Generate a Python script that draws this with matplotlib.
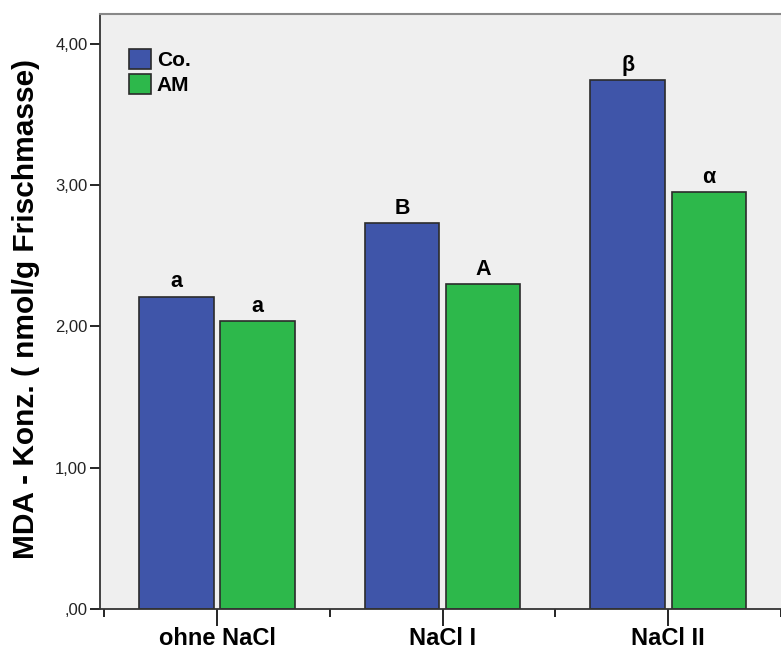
import numpy as np
import matplotlib.pyplot as plt
from matplotlib.patches import Patch

# Daten: MDA-Konzentration (nmol/g Frischmasse)
categories = ['ohne NaCl', 'NaCl I', 'NaCl II']
series_names = ['Co.', 'AM']
co_values = [2.21, 2.73, 3.74]
am_values = [2.04, 2.30, 2.95]
co_letters = ['a', 'B', 'β']
am_letters = ['a', 'A', 'α']
yticks = [0, 1, 2, 3, 4]
ytick_labels = [',00', '1,00', '2,00', '3,00', '4,00']

plt.rcParams['font.family'] = ['Liberation Sans', 'DejaVu Sans']

blue = '#3F55A9'
green = '#2DB84B'
edge = '#2b2b2b'

fig = plt.figure(figsize=(7.81, 6.52), dpi=100)
ax = fig.add_axes([100 / 781, 43 / 652, 681 / 781, 595 / 652])
ax.set_facecolor('#EFEFEF')

x = np.arange(len(categories))
width = 0.33
offset = 0.18

bars_co = ax.bar(x - offset, co_values, width, color=blue, edgecolor=edge, linewidth=1.2)
bars_am = ax.bar(x + offset, am_values, width, color=green, edgecolor=edge, linewidth=1.2)

# Signifikanzbuchstaben über den Balken
for bars, letters in [(bars_co, co_letters), (bars_am, am_letters)]:
    for bar, letter in zip(bars, letters):
        ax.annotate(letter, (bar.get_x() + bar.get_width() / 2, bar.get_height()),
                    xytext=(0, 3), textcoords='offset points', ha='center', va='bottom',
                    fontsize=15.5, fontweight='bold')

ax.set_xlim(-0.519, 2.475)
ax.set_ylim(0, 4.21)

ax.set_yticks(yticks)
ax.set_yticklabels(ytick_labels, fontsize=12, color='#222222')
ax.tick_params(axis='y', length=7, width=1.2, direction='out', pad=2)

ax.set_xticks(x)
ax.set_xticklabels(categories, fontsize=17, fontweight='bold')
ax.tick_params(axis='x', length=12, width=1.2, direction='out', pad=1)
ax.set_xticks(np.arange(-0.5, 3.0, 1.0), minor=True)
ax.tick_params(axis='x', which='minor', length=6, width=1.2, direction='out')

ax.set_ylabel('MDA - Konz. ( nmol/g Frischmasse)', fontsize=21.5, fontweight='bold')
ax.yaxis.set_label_coords(-0.088, 0.505)

for side in ['left', 'bottom']:
    ax.spines[side].set_color('#333333')
    ax.spines[side].set_linewidth(1.3)
ax.spines['top'].set_color('#888888')
ax.spines['top'].set_linewidth(1.5)
ax.spines['right'].set_visible(False)

handles = [Patch(facecolor=blue, edgecolor=edge, linewidth=1.2, label=series_names[0]),
           Patch(facecolor=green, edgecolor=edge, linewidth=1.2, label=series_names[1])]
leg = ax.legend(handles=handles, loc='upper left', bbox_to_anchor=(0.027, 0.958), frameon=False,
                handlelength=1.05, handleheight=1.05, handletextpad=0.3, labelspacing=0.2,
                borderpad=0, prop={'weight': 'bold', 'size': 15})

fig.savefig('out.png', dpi=100)
